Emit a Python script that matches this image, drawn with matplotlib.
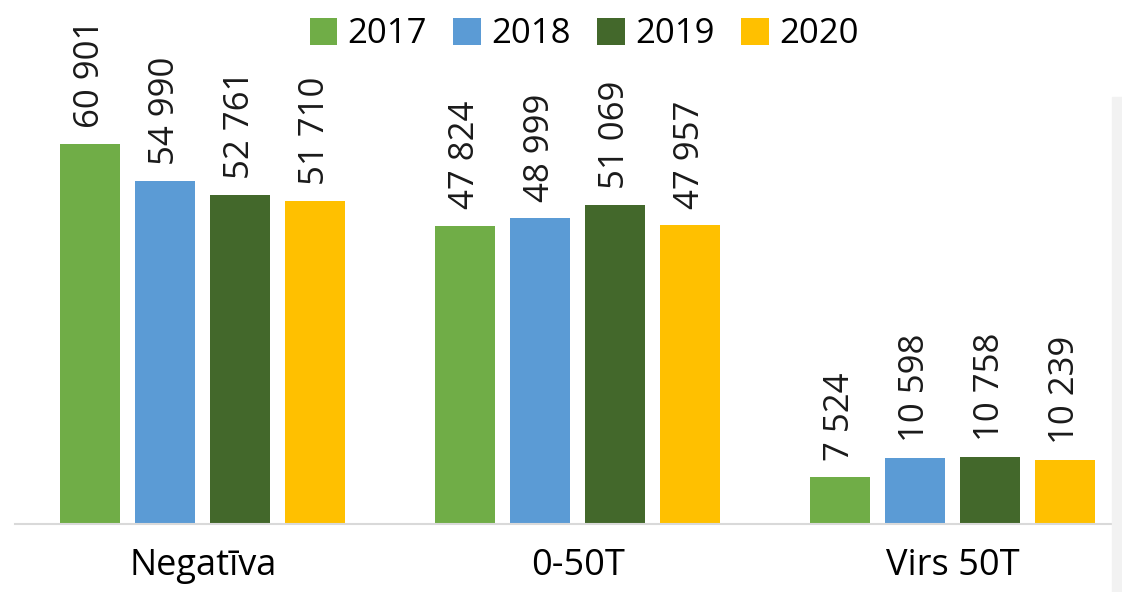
import matplotlib.pyplot as plt
from matplotlib.patches import Rectangle
import numpy as np

categories = ['Negatīva', '0-50T', 'Virs 50T']
years = ['2017', '2018', '2019', '2020']
v2017 = [60901, 47824, 7524]
v2018 = [54990, 48999, 10598]
v2019 = [52761, 51069, 10758]
v2020 = [51710, 47957, 10239]
colors = ['#70AD47', '#5B9BD5', '#43682B', '#FFC000']

plt.rcParams['font.family'] = ['Open Sans', 'DejaVu Sans']

fig = plt.figure(figsize=(11.22, 5.92), dpi=100)
ax = fig.add_axes([15 / 1122, 1 - 524 / 592, (1112 - 15) / 1122, 524 / 592])

x = np.arange(len(categories))
series = [v2017, v2018, v2019, v2020]
w = 0.16
for i, (yr, vals, c) in enumerate(zip(years, series, colors)):
    pos = x + (i - 1.5) * 0.2
    ax.bar(pos, vals, w, color=c, label=yr)
    for p, v in zip(pos, vals):
        ax.text(p, v + 2600, f"{v:,}".replace(",", " "), rotation=90,
                ha='center', va='bottom', fontsize=25, color='#1a1a1a')

ax.set_xlim(-0.501, 2.424)
ax.set_ylim(0, 84000)
ax.set_yticks([])
ax.set_xticks(x)
ax.set_xticklabels(categories, fontsize=26)
ax.tick_params(axis='x', length=0, pad=17)
for s in ['top', 'right', 'left']:
    ax.spines[s].set_visible(False)
ax.spines['bottom'].set_color('#D9D9D9')
ax.spines['bottom'].set_linewidth(1.5)

fig.patches.append(Rectangle((1112 / 1122, 0), 10 / 1122, 1 - 97 / 592,
                             transform=fig.transFigure, color='#F2F2F2', zorder=0))

fig.legend(loc='upper center', bbox_to_anchor=(584 / 1122, 1.0), ncol=4,
           frameon=False, fontsize=25, handlelength=0.8, handleheight=0.8,
           handletextpad=0.3, columnspacing=0.75, borderaxespad=0.1)

plt.savefig('out.png', dpi=100)
